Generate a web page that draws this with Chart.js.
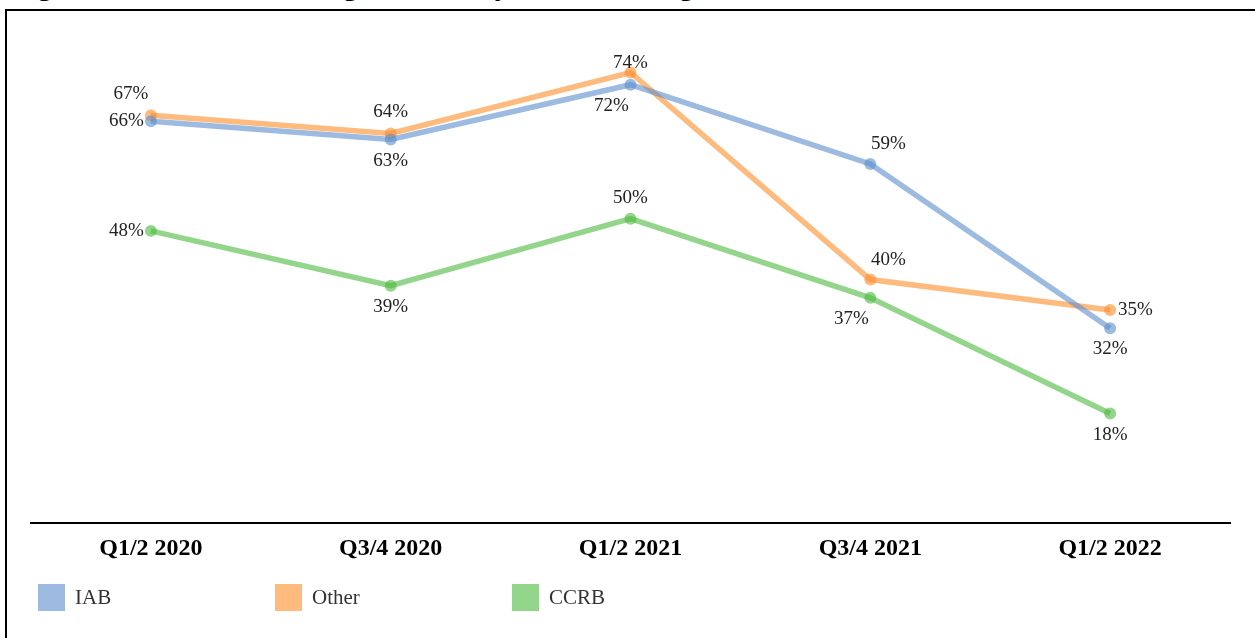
<!DOCTYPE html>
<html>
<head>
<meta charset="utf-8">
<script src="https://cdn.jsdelivr.net/npm/chart.js@4.4.1/dist/chart.umd.min.js"></script>
<style>
    html, body { margin: 0; padding: 0; background: #fff; }
    body { width: 1255px; height: 638px; position: relative; overflow: hidden; font-family: "Liberation Serif", "DejaVu Serif", serif; }
    #title { position: absolute; left: 12px; top: -29px; font-size: 29px; line-height: 29px; font-weight: bold; white-space: nowrap; color: #000; }
    #frame { position: absolute; left: 5px; top: 9px; width: 1300px; height: 700px; border: 2px solid #000; box-sizing: border-box; background: #fff; }
    #wrap { position: absolute; left: 0; top: 0; width: 1255px; height: 638px; }
    #legend { position: absolute; left: 38px; top: 584px; display: flex; }
    .item { width: 237px; display: flex; align-items: center; font-size: 21px; color: #333; }
    .box { width: 27px; height: 27px; margin-right: 10px; }
</style>
</head>
<body>
<div id="title">Figure 5: Unable to Investigate Rates by Place of Filing</div>
<div id="frame"></div>
<div id="wrap"><canvas id="chart"></canvas></div>
<div id="legend"></div>
<script>
// données du graphique
const periods = ['Q1/2 2020', 'Q3/4 2020', 'Q1/2 2021', 'Q3/4 2021', 'Q1/2 2022'];
const iabValues = [66, 63, 72, 59, 32];
const otherValues = [67, 64, 74, 40, 35];
const ccrbValues = [48, 39, 50, 37, 18];

// où placer chaque étiquette autour de son point
const iabLabelPos = ['left', 'bottom', 'bottomLeft', 'topRight', 'bottom'];
const otherLabelPos = ['topLeft', 'top', 'topTight', 'topRight', 'right'];
const ccrbLabelPos = ['left', 'bottom', 'top', 'bottomLeft', 'bottom'];

const colors = {
    iab: 'rgba(91, 141, 203, 0.6)',
    other: 'rgba(255, 140, 40, 0.6)',
    ccrb: 'rgba(75, 185, 60, 0.6)'
};

// plugin maison pour les pourcentages
const pointLabels = {
    id: 'pointLabels',
    afterDatasetsDraw(chart) {
        const ctx = chart.ctx;
        ctx.save();
        ctx.font = '19px "Liberation Serif", serif';
        ctx.fillStyle = '#222';
        chart.data.datasets.forEach((ds, i) => {
            const meta = chart.getDatasetMeta(i);
            meta.data.forEach((pt, j) => {
                const txt = ds.data[j] + '%';
                let x = pt.x, y = pt.y;
                ctx.textAlign = 'center';
                ctx.textBaseline = 'middle';
                switch (ds.labelPos[j]) {
                    case 'top': y -= 21; break;
                    case 'topTight': y -= 10; break;
                    case 'bottom': y += 21; break;
                    case 'left': x -= 7; ctx.textAlign = 'right'; break;
                    case 'right': x += 8; ctx.textAlign = 'left'; break;
                    case 'topLeft': x -= 20; y -= 21; break;
                    case 'topRight': x += 18; y -= 20; break;
                    case 'bottomLeft': x -= 19; y += 21; break;
                }
                ctx.fillText(txt, x, y);
            });
        });
        ctx.restore();
    }
};

const makeSet = (label, data, color, labelPos) => ({
    label: label,
    data: data,
    labelPos: labelPos,
    borderColor: color,
    backgroundColor: color,
    pointBackgroundColor: color,
    pointBorderWidth: 0,
    borderWidth: 5.5,
    pointRadius: 6,
    tension: 0
});

const ctx = document.getElementById('chart').getContext('2d');
const chart = new Chart(ctx, {
    type: 'line',
    data: {
        labels: periods,
        datasets: [
            makeSet('IAB', iabValues, colors.iab, iabLabelPos),
            makeSet('Other', otherValues, colors.other, otherLabelPos),
            makeSet('CCRB', ccrbValues, colors.ccrb, ccrbLabelPos)
        ]
    },
    options: {
        responsive: true,
        maintainAspectRatio: false,
        animation: false,
        layout: { padding: { left: 31, right: 25, top: 36, bottom: 72 } },
        plugins: {
            legend: { display: false },
            tooltip: { enabled: false }
        },
        scales: {
            x: {
                offset: true,
                grid: { display: false },
                border: { display: true, color: '#000', width: 2 },
                ticks: {
                    color: '#000',
                    padding: 3,
                    font: { family: '"Liberation Serif", serif', size: 24, weight: 'bold' }
                }
            },
            y: {
                display: false,
                min: 0,
                max: 80
            }
        }
    },
    plugins: [pointLabels]
});

// légende en HTML
const legend = document.getElementById('legend');
chart.data.datasets.forEach(ds => {
    const item = document.createElement('div');
    item.className = 'item';
    item.innerHTML = `<span class="box" style="background:${ds.borderColor}"></span><span>${ds.label}</span>`;
    legend.appendChild(item);
});
</script>
</body>
</html>
